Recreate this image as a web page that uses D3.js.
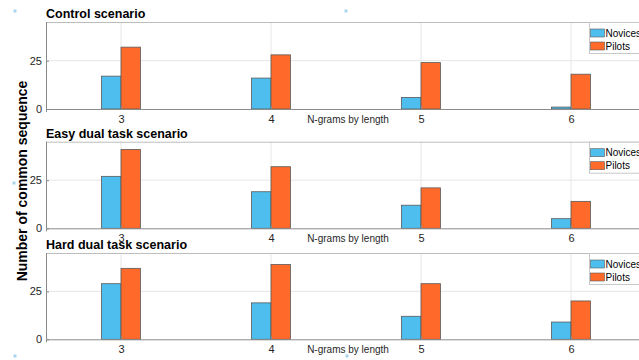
<!DOCTYPE html>
<html>
<head>
<meta charset="utf-8">
<script src="https://cdn.jsdelivr.net/npm/d3@7"></script>
<style>
  html, body { margin: 0; padding: 0; background: #fff; }
  svg { display: block; font-family: "Liberation Sans", Arial, Helvetica, sans-serif; }
</style>
</head>
<body>
<svg id="chart" width="639" height="360"></svg>
<script>
// N-gram lengths on the x axis
const ngramLengths = [3, 4, 5, 6];
const seriesNames = ["Novices", "Pilots"];
const yTicks = [0, 25];

// Common-sequence counts per scenario
const scenarioTitles = ["Control scenario", "Easy dual task scenario", "Hard dual task scenario"];
const controlNovices = [17, 16, 6, 1];
const controlPilots  = [32, 28, 24, 18];
const easyNovices    = [27, 19, 12, 5];
const easyPilots     = [41, 32, 21, 14];
const hardNovices    = [29, 19, 12, 9];
const hardPilots     = [37, 39, 29, 20];

const panels = [
  { title: scenarioTitles[0], novices: controlNovices, pilots: controlPilots },
  { title: scenarioTitles[1], novices: easyNovices, pilots: easyPilots },
  { title: scenarioTitles[2], novices: hardNovices, pilots: hardPilots }
];

const colors = { Novices: "#4DBEEE", Pilots: "#FF6929" };
const edge = "#5a5a5a";
const tickColor = "#262626";

const svg = d3.select("#chart");

// figure resize handles (small light-blue markers)
const handles = [[15, 11], [346, 11], [14, 183], [15, 356], [347, 356]];
svg.selectAll(".handle").data(handles).enter().append("rect")
  .attr("x", d => d[0] - 1.5).attr("y", d => d[1] - 1.5)
  .attr("width", 3).attr("height", 3).attr("fill", "#a8d5ee");

// Shared x scale: axis spans 2.5 .. 6.5 (right side runs past the window)
const x = d3.scaleLinear().domain([2.5, 6.5]).range([46, 646]);
const barW = 19.5;

// Vertical placement of each panel (top of plot area, zero baseline)
const layout = [
  { top: 22, bottom: 109 },
  { top: 141.7, bottom: 228.3 },
  { top: 253, bottom: 339.3 }
];

panels.forEach((p, i) => {
  const L = layout[i];
  const y = d3.scaleLinear().domain([0, 45]).range([L.bottom, L.top]);
  const g = svg.append("g");

  // grid lines
  g.selectAll(".vgrid").data(ngramLengths).enter().append("line")
    .attr("x1", d => x(d)).attr("x2", d => x(d))
    .attr("y1", L.top).attr("y2", L.bottom)
    .attr("stroke", "#e6e6e6").attr("stroke-width", 1);
  g.selectAll(".hgrid").data(yTicks.filter(t => t > 0)).enter().append("line")
    .attr("x1", x.range()[0]).attr("x2", x.range()[1])
    .attr("y1", d => y(d)).attr("y2", d => y(d))
    .attr("stroke", "#e6e6e6").attr("stroke-width", 1);

  // bars
  const rows = ngramLengths.map((n, k) => ({ n, Novices: p.novices[k], Pilots: p.pilots[k] }));
  seriesNames.forEach((s, si) => {
    g.selectAll(".bar-" + s).data(rows).enter().append("rect")
      .attr("x", d => x(d.n) + (si === 0 ? -barW : 0))
      .attr("width", barW)
      .attr("y", d => y(d[s]))
      .attr("height", d => y(0) - y(d[s]))
      .attr("fill", colors[s])
      .attr("stroke", edge).attr("stroke-width", 0.8);
  });

  // box: top edge
  g.append("line").attr("x1", x.range()[0]).attr("x2", x.range()[1])
    .attr("y1", L.top + 0.5).attr("y2", L.top + 0.5).attr("stroke", "#bdbdbd");

  // x axis
  const xAxis = d3.axisBottom(x).tickValues(ngramLengths).tickSize(3).tickFormat(d3.format("d"));
  const xa = g.append("g").attr("transform", `translate(0,${L.bottom})`).call(xAxis);
  xa.select(".domain").attr("stroke", "#8a8a8a");
  xa.selectAll(".tick line").attr("y2", -3).attr("stroke", "#8a8a8a");
  xa.selectAll(".tick text").attr("y", 6).attr("font-size", 11).attr("fill", tickColor)
    .attr("font-family", "Liberation Sans, Arial, sans-serif");

  // y axis
  const yAxis = d3.axisLeft(y).tickValues(yTicks).tickSize(3);
  const ya = g.append("g").attr("transform", `translate(${x.range()[0]},0)`).call(yAxis);
  ya.select(".domain").attr("stroke", "#8a8a8a").attr("d", `M0.5,${L.top}V${L.bottom}`);
  ya.selectAll(".tick line").attr("x2", 3).attr("stroke", "#8a8a8a");
  ya.selectAll(".tick text").attr("x", -4).attr("font-size", 11).attr("fill", tickColor)
    .attr("font-family", "Liberation Sans, Arial, sans-serif");

  // x label
  g.append("text").attr("x", 348).attr("y", L.bottom + 14)
    .attr("text-anchor", "middle").attr("font-size", 10).attr("fill", tickColor)
    .text("N-grams by length");

  // panel title
  g.append("text").attr("x", 46).attr("y", L.top - 4)
    .attr("font-size", 12.5).attr("font-weight", "bold").attr("fill", "#000")
    .text(p.title);

  // legend
  const lg = g.append("g").attr("transform", `translate(589,${L.top})`);
  lg.append("rect").attr("x", 0.5).attr("y", 0.5).attr("width", 70).attr("height", 31)
    .attr("fill", "#fff").attr("stroke", "#c8c8c8");
  seriesNames.forEach((s, si) => {
    lg.append("rect").attr("x", 1.5).attr("y", 7 + si * 13).attr("width", 14).attr("height", 8)
      .attr("fill", colors[s]).attr("stroke", edge).attr("stroke-width", 0.6);
    lg.append("text").attr("x", 16.5).attr("y", 14.5 + si * 13)
      .attr("font-size", 10).attr("fill", "#000").text(s);
  });
});

// shared y label
svg.append("text")
  .attr("transform", "translate(27,181) rotate(-90)")
  .attr("text-anchor", "middle").attr("font-size", 14).attr("font-weight", "bold")
  .attr("fill", "#000")
  .text("Number of common sequence");
</script>
</body>
</html>
